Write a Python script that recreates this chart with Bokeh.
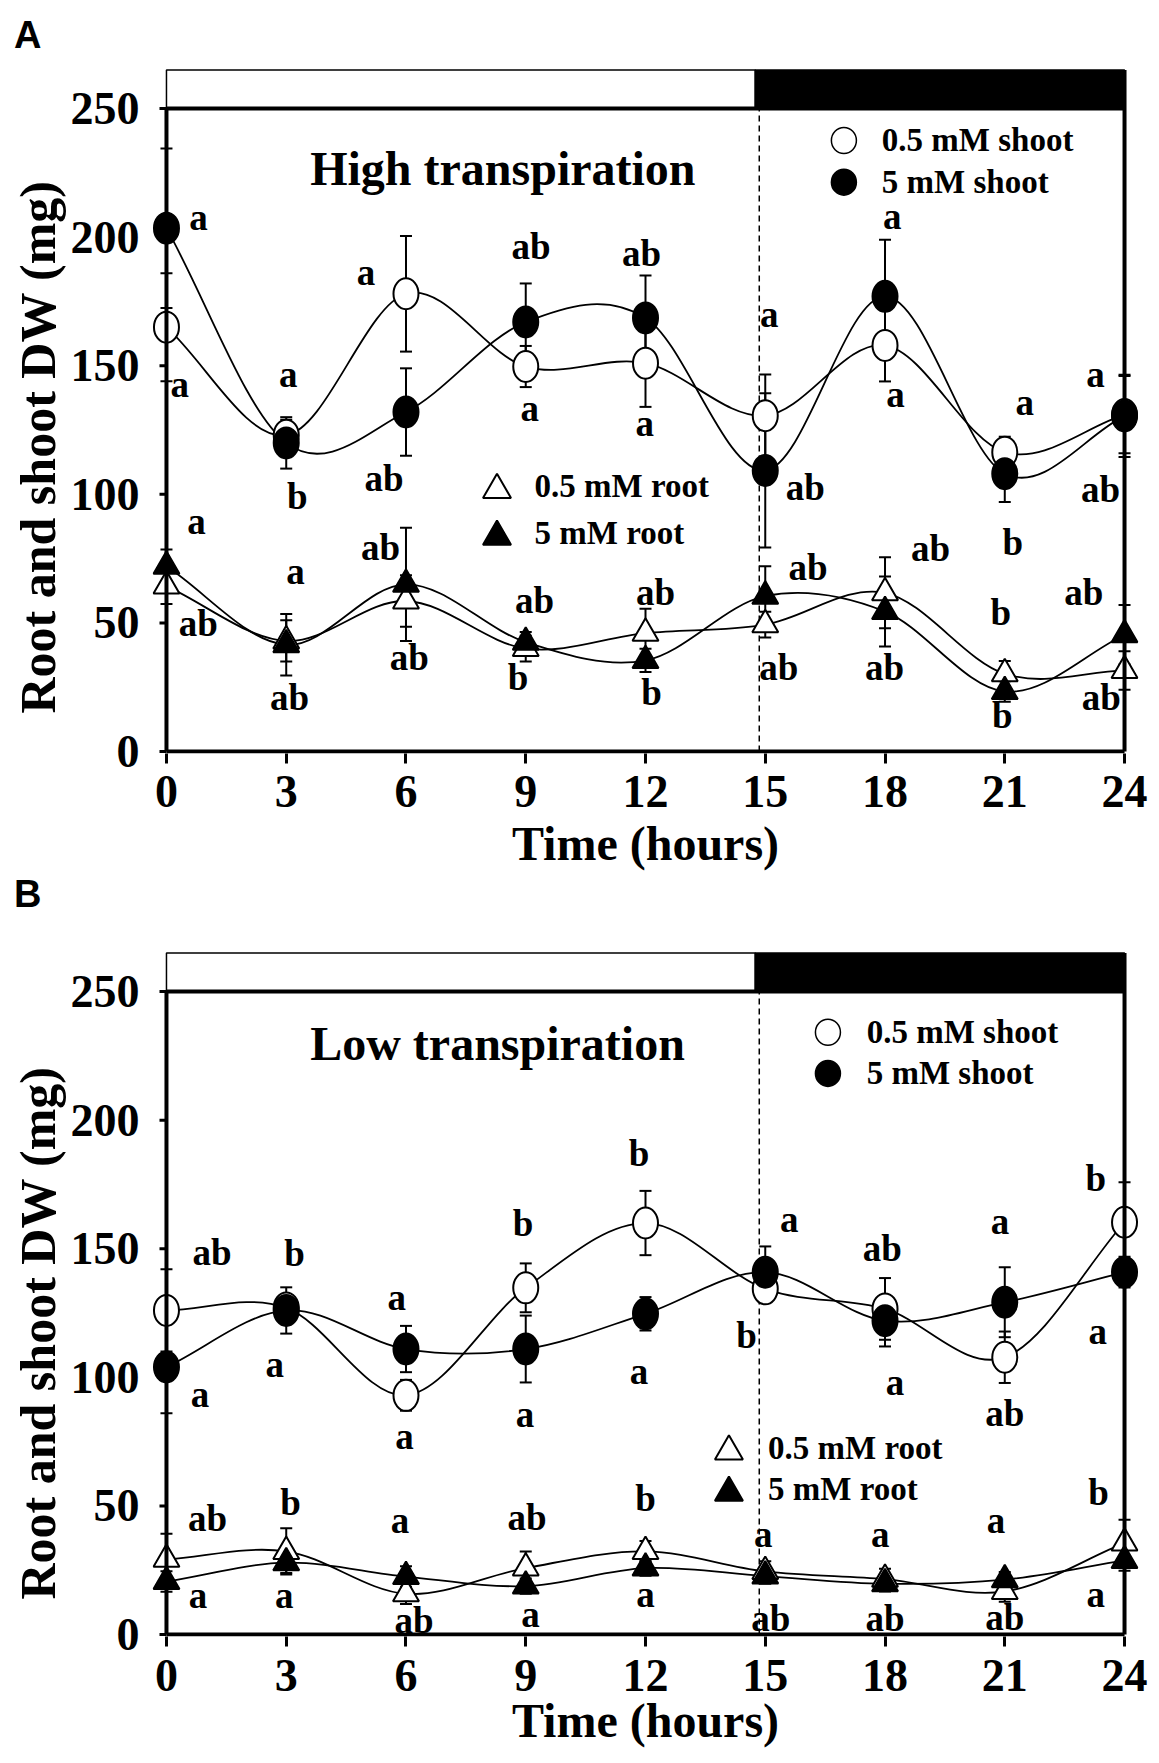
import numpy as np
from bokeh.plotting import figure
from bokeh.models import ColumnDataSource, Whisker, TeeHead, FixedTicker, Range1d, Title
from bokeh.layouts import column
from bokeh.embed import file_html
from bokeh.resources import INLINE
from bokeh.core.properties import value

# ---------------- data ----------------
hours = [0, 3, 6, 9, 12, 15, 18, 21, 24]
y_ticks = [0, 50, 100, 150, 200, 250]

# Panel A - high transpiration
a_shoot_05 = [165, 123, 178, 149.7, 151, 130.6, 157.9, 116.4, 131]
a_shoot_05_err = [21, 6, 22.5, 8, 17, 16, 14, 6, 15]
a_shoot_5 = [203.5, 120, 132, 167, 168.6, 109.3, 177, 108, 130.5]
a_shoot_5_err = [31, 10, 17, 15, 16.5, 30, 22, 11, 16]
a_root_05 = [64.3, 43, 58.5, 40, 46, 49.3, 61.7, 30.2, 31.5]
a_root_05_err = [7, 8, 10, 5, 9.5, 5, 13.8, 5, 7.5]
a_root_5 = [72, 41.5, 65, 42.5, 35.4, 60.4, 54.4, 23.3, 45.4]
a_root_5_err = [6.5, 12, 22, 4, 4.5, 11.6, 13.6, 4, 11.6]

a_lbl_x = [0.8, 0.33, 3.05, 3.28, 5.0, 5.45, 9.13, 9.1, 11.9, 11.98, 15.1, 16.0, 18.18, 18.26, 21.5, 21.2, 23.27, 23.4,
           0.75, 0.8, 3.23, 3.08, 5.36, 6.08, 9.22, 8.81, 12.25, 12.15, 16.07, 15.34, 19.14, 17.99, 20.9, 20.94, 22.98, 23.42]
a_lbl_y = [206, 141, 145, 99, 184.5, 106, 196.5, 131.7, 193.6, 126, 168.3, 102.8, 206.4, 137.2, 134, 81.4, 145, 102,
           87.9, 49.6, 68.4, 21.1, 79.4, 36.7, 58.7, 28.9, 61.9, 23.1, 71.7, 32.8, 78.8, 32.8, 54, 14, 61.9, 21.1]
a_lbl_txt = ["a", "a", "a", "b", "a", "ab", "ab", "a", "ab", "a", "a", "ab", "a", "a", "a", "b", "a", "ab",
             "a", "ab", "a", "ab", "ab", "ab", "ab", "b", "ab", "b", "ab", "ab", "ab", "ab", "b", "b", "ab", "ab"]

# Panel B - low transpiration
b_shoot_05 = [126, 127, 93, 134.8, 160, 134.4, 126.6, 107.8, 160.3]
b_shoot_05_err = [16, 5, 6, 9.5, 12.5, 5, 12, 10, 15.6]
b_shoot_5 = [104, 126, 111, 111, 124.7, 140.9, 122, 129.2, 140.9]
b_shoot_5_err = [18, 9, 9, 13, 6.5, 10, 10, 13.6, 6]
b_root_05 = [29.2, 32.3, 15.8, 25.8, 32.3, 24.5, 21.5, 16.7, 35.6]
b_root_05_err = [10, 9, 4, 6.5, 4, 4, 4, 4, 9]
b_root_5 = [20.6, 27.9, 22.5, 18.8, 25.8, 22.7, 19.7, 21.3, 28.8]
b_root_5_err = [4, 4, 4, 3, 3, 3, 3, 3, 4]

b_lbl_x = [1.14, 3.21, 0.84, 2.71, 5.77, 5.96, 8.93, 8.98, 11.84, 11.84, 15.6, 14.53, 17.93, 18.25, 20.88, 21.0, 23.28, 23.33,
           1.03, 0.79, 3.11, 2.95, 5.85, 6.2, 9.03, 9.12, 12.0, 12.0, 14.95, 15.14, 17.88, 18.0, 20.78, 21.0, 23.35, 23.28]
b_lbl_y = [148.6, 148, 91.6, 103.3, 129.2, 75.4, 159.7, 83.9, 186.9, 100.7, 159.7, 116.3, 150, 96.2, 159, 85.8, 177.2, 116.3,
           45, 13.5, 51.4, 13.5, 42.8, 5.4, 45.6, 6.1, 52.8, 13.9, 37.2, 6.1, 37.2, 6.1, 42.8, 6.7, 55.3, 13.9]
b_lbl_txt = ["ab", "b", "a", "a", "a", "a", "b", "a", "b", "a", "a", "b", "ab", "a", "a", "ab", "b", "a",
             "ab", "a", "b", "a", "a", "ab", "ab", "a", "b", "a", "a", "ab", "a", "ab", "a", "ab", "b", "a"]

legend_names = ["0.5 mM shoot", "5 mM shoot", "0.5 mM root", "5 mM root"]
y_title = "Root and shoot DW  (mg)"
x_title = "Time (hours)"

# ---------------- style / layout ----------------
SERIF = "Liberation Serif"
SANS = "Liberation Sans"
LIGHT_END = 14.75
DASH_X = 14.85
BAR_TOP = 265
X_RANGE = (-0.35, 24.35)
Y_RANGE = (-0.8, 265.6)
BORDER_LEFT = 152
A_OFFSET = 1.7   # lift for x-height-only letters so their ink is centred


def smooth_bezier(x, y):
    """Catmull-Rom style smoothing expressed as cubic Bezier segments."""
    x = np.asarray(x, float)
    y = np.asarray(y, float)
    m = np.empty_like(y)
    m[1:-1] = (y[2:] - y[:-2]) / (x[2:] - x[:-2])
    m[0] = (y[1] - y[0]) / (x[1] - x[0])
    m[-1] = (y[-1] - y[-2]) / (x[-1] - x[-2])
    h = np.diff(x)
    return dict(x0=x[:-1], y0=y[:-1], x1=x[1:], y1=y[1:],
                cx0=x[:-1] + h / 3, cy0=y[:-1] + m[:-1] * h / 3,
                cx1=x[1:] - h / 3, cy1=y[1:] - m[1:] * h / 3)


def letter_title(letter, vertical_align, standoff):
    return Title(text=letter, align="left", offset=13.4 - BORDER_LEFT, vertical_align=vertical_align,
                 standoff=standoff, text_font=SANS, text_font_size="38px", text_font_style="bold",
                 text_color="black")


def make_panel(title, title_y, series, lbl, leg, mbt, mbb, tick_standoff, xlabel_standoff,
               ytitle_offset, with_title):
    kw = {} if with_title else {"title": None}
    p = figure(frame_width=986, frame_height=685,
               x_range=Range1d(*X_RANGE), y_range=Range1d(*Y_RANGE),
               output_backend="svg", toolbar_location=None,
               min_border_left=BORDER_LEFT, min_border_right=12,
               min_border_top=mbt, min_border_bottom=mbb,
               background_fill_color="white", border_fill_color="white",
               outline_line_color=None, **kw)
    p.xgrid.visible = False
    p.ygrid.visible = False

    xa = p.xaxis[0]
    xa.ticker = FixedTicker(ticks=hours)
    xa.axis_line_color = None
    xa.major_tick_out = 10
    xa.major_tick_in = 0
    xa.major_tick_line_width = 3
    xa.major_tick_line_color = "black"
    xa.minor_tick_line_color = None
    xa.major_label_text_font = SERIF
    xa.major_label_text_font_size = "46px"
    xa.major_label_text_font_style = "bold"
    xa.major_label_text_color = "black"
    xa.major_label_standoff = tick_standoff
    xa.axis_label = x_title
    xa.axis_label_text_font = SERIF
    xa.axis_label_text_font_size = "48px"
    xa.axis_label_text_font_style = "bold"
    xa.axis_label_text_color = "black"
    xa.axis_label_standoff = xlabel_standoff

    ya = p.yaxis[0]
    ya.ticker = FixedTicker(ticks=y_ticks)
    ya.axis_line_color = None
    ya.major_tick_out = 0
    ya.major_tick_in = 0
    ya.major_tick_line_color = None
    ya.minor_tick_line_color = None
    ya.major_label_text_font = SERIF
    ya.major_label_text_font_size = "46px"
    ya.major_label_text_font_style = "bold"
    ya.major_label_text_color = "black"
    ya.major_label_standoff = 13

    # y-axis title, outside the tick labels
    p.add_layout(Title(text=y_title, align="left", offset=ytitle_offset, vertical_align="bottom",
                       standoff=4, text_font=SERIF, text_font_size="50px", text_font_style="bold",
                       text_color="black"), "left")

    # light / dark bar
    p.quad(left=[0], right=[LIGHT_END], bottom=[250], top=[BAR_TOP],
           fill_color="white", line_color="black", line_width=1.5)
    p.quad(left=[LIGHT_END], right=[24], bottom=[250], top=[BAR_TOP],
           fill_color="black", line_color="black", line_width=1.5)
    # dashed light-off line
    p.segment(x0=[DASH_X], y0=[0], x1=[DASH_X], y1=[250],
              line_color="black", line_width=1.5, line_dash="6 4")

    # error bars
    for vals, errs, _, _ in series:
        v = np.asarray(vals, float)
        e = np.asarray(errs, float)
        src = ColumnDataSource(dict(x=hours, lo=v - e, up=v + e))
        w = Whisker(source=src, base="x", lower="lo", upper="up", dimension="height",
                    line_color="black", line_width=2,
                    upper_head=TeeHead(size=12, line_width=2, line_color="black"),
                    lower_head=TeeHead(size=12, line_width=2, line_color="black"))
        p.add_layout(w)

    # smooth curves
    for vals, _, _, _ in series:
        p.bezier(source=ColumnDataSource(smooth_bezier(hours, vals)),
                 x0="x0", y0="y0", x1="x1", y1="y1",
                 cx0="cx0", cy0="cy0", cx1="cx1", cy1="cy1",
                 line_color="black", line_width=1.8)

    # markers
    for vals, _, kind, fill in series:
        if kind == "circle":
            p.ellipse(x=hours, y=vals, width=25, height=31,
                      width_units="screen", height_units="screen",
                      fill_color=fill, line_color="black", line_width=2)
        else:
            p.scatter(x=hours, y=vals, marker="triangle", size=26,
                      fill_color=fill, line_color="black", line_width=2)

    # frame lines
    p.segment(x0=[0, 0, 0, 24], y0=[0, 0, 250, 0], x1=[0, 24, 24, 24], y1=[250, 0, 250, BAR_TOP],
              line_color="black", line_width=4)
    # y ticks
    p.segment(x0=[-0.175] * len(y_ticks), y0=y_ticks, x1=[0] * len(y_ticks), y1=y_ticks,
              line_color="black", line_width=3)

    # significance letters
    ly = [y + (A_OFFSET if t == "a" else 0) for y, t in zip(lbl[1], lbl[2])]
    p.text(x=lbl[0], y=ly, text=lbl[2], text_font=value(SERIF), text_font_style="bold",
           text_font_size="37px", text_align="center", text_baseline="middle", text_color="black")

    # legends
    cx, cy, ctx, tx, ty, ttx, tty = leg
    p.ellipse(x=[cx, cx], y=cy, width=25, height=26, width_units="screen", height_units="screen",
              fill_color=["white", "black"], line_color="black", line_width=1.5)
    p.text(x=[ctx, ctx], y=cy, text=legend_names[:2], text_font=value(SERIF), text_font_style="bold",
           text_font_size="33px", text_align="left", text_baseline="middle", text_color="black")
    p.scatter(x=[tx, tx], y=ty, marker="triangle", size=28,
              fill_color=["white", "black"], line_color="black", line_width=2)
    p.text(x=[ttx, ttx], y=tty, text=legend_names[2:], text_font=value(SERIF), text_font_style="bold",
           text_font_size="33px", text_align="left", text_baseline="middle", text_color="black")

    # panel title
    p.text(x=[3.6], y=[title_y], text=[title], text_font=value(SERIF), text_font_style="bold",
           text_font_size="48px", text_align="left", text_baseline="middle", text_color="black")
    return p


series_a = [(a_shoot_05, a_shoot_05_err, "circle", "white"),
            (a_shoot_5, a_shoot_5_err, "circle", "black"),
            (a_root_05, a_root_05_err, "triangle", "white"),
            (a_root_5, a_root_5_err, "triangle", "black")]
series_b = [(b_shoot_05, b_shoot_05_err, "circle", "white"),
            (b_shoot_5, b_shoot_5_err, "circle", "black"),
            (b_root_05, b_root_05_err, "triangle", "white"),
            (b_root_5, b_root_5_err, "triangle", "black")]

# legend layout: circle x, circle ys, circle-text x, triangle x, triangle ys, triangle-text x, triangle-text ys
leg_a = (16.97, [237.6, 221.4], 17.92, 8.28, [101.7, 83.5], 9.22, [103.2, 85.0])
leg_b = (16.57, [234.2, 218.2], 17.54, 14.09, [71.2, 55.1], 15.07, [72.7, 56.6])

TOP_A = 68
BOTTOM_A = 180
H_A = TOP_A + 685 + BOTTOM_A
TOP_B = 951 - H_A
BOTTOM_B = 1763 - H_A - TOP_B - 685

pA = make_panel("High transpiration", 226.8, series_a, (a_lbl_x, a_lbl_y, a_lbl_txt), leg_a,
                TOP_A, BOTTOM_A, 12, 7, 40, True)
t = letter_title("A", "top", 22)
pA.title.text = t.text
pA.title.align = t.align
pA.title.offset = t.offset
pA.title.vertical_align = t.vertical_align
pA.title.standoff = t.standoff
pA.title.text_font = t.text_font
pA.title.text_font_size = t.text_font_size
pA.title.text_font_style = t.text_font_style
pA.title.text_color = t.text_color
# panel letter B sits in the space below panel A's axis
pA.add_layout(letter_title("B", "top", 0), "below")

pB = make_panel("Low transpiration", 229.8, series_b, (b_lbl_x, b_lbl_y, b_lbl_txt), leg_b,
                TOP_B, BOTTOM_B, 13, 0, 37, False)

layout = column(pA, pB, spacing=0)
open("out.html", "w").write(file_html(layout, INLINE))
